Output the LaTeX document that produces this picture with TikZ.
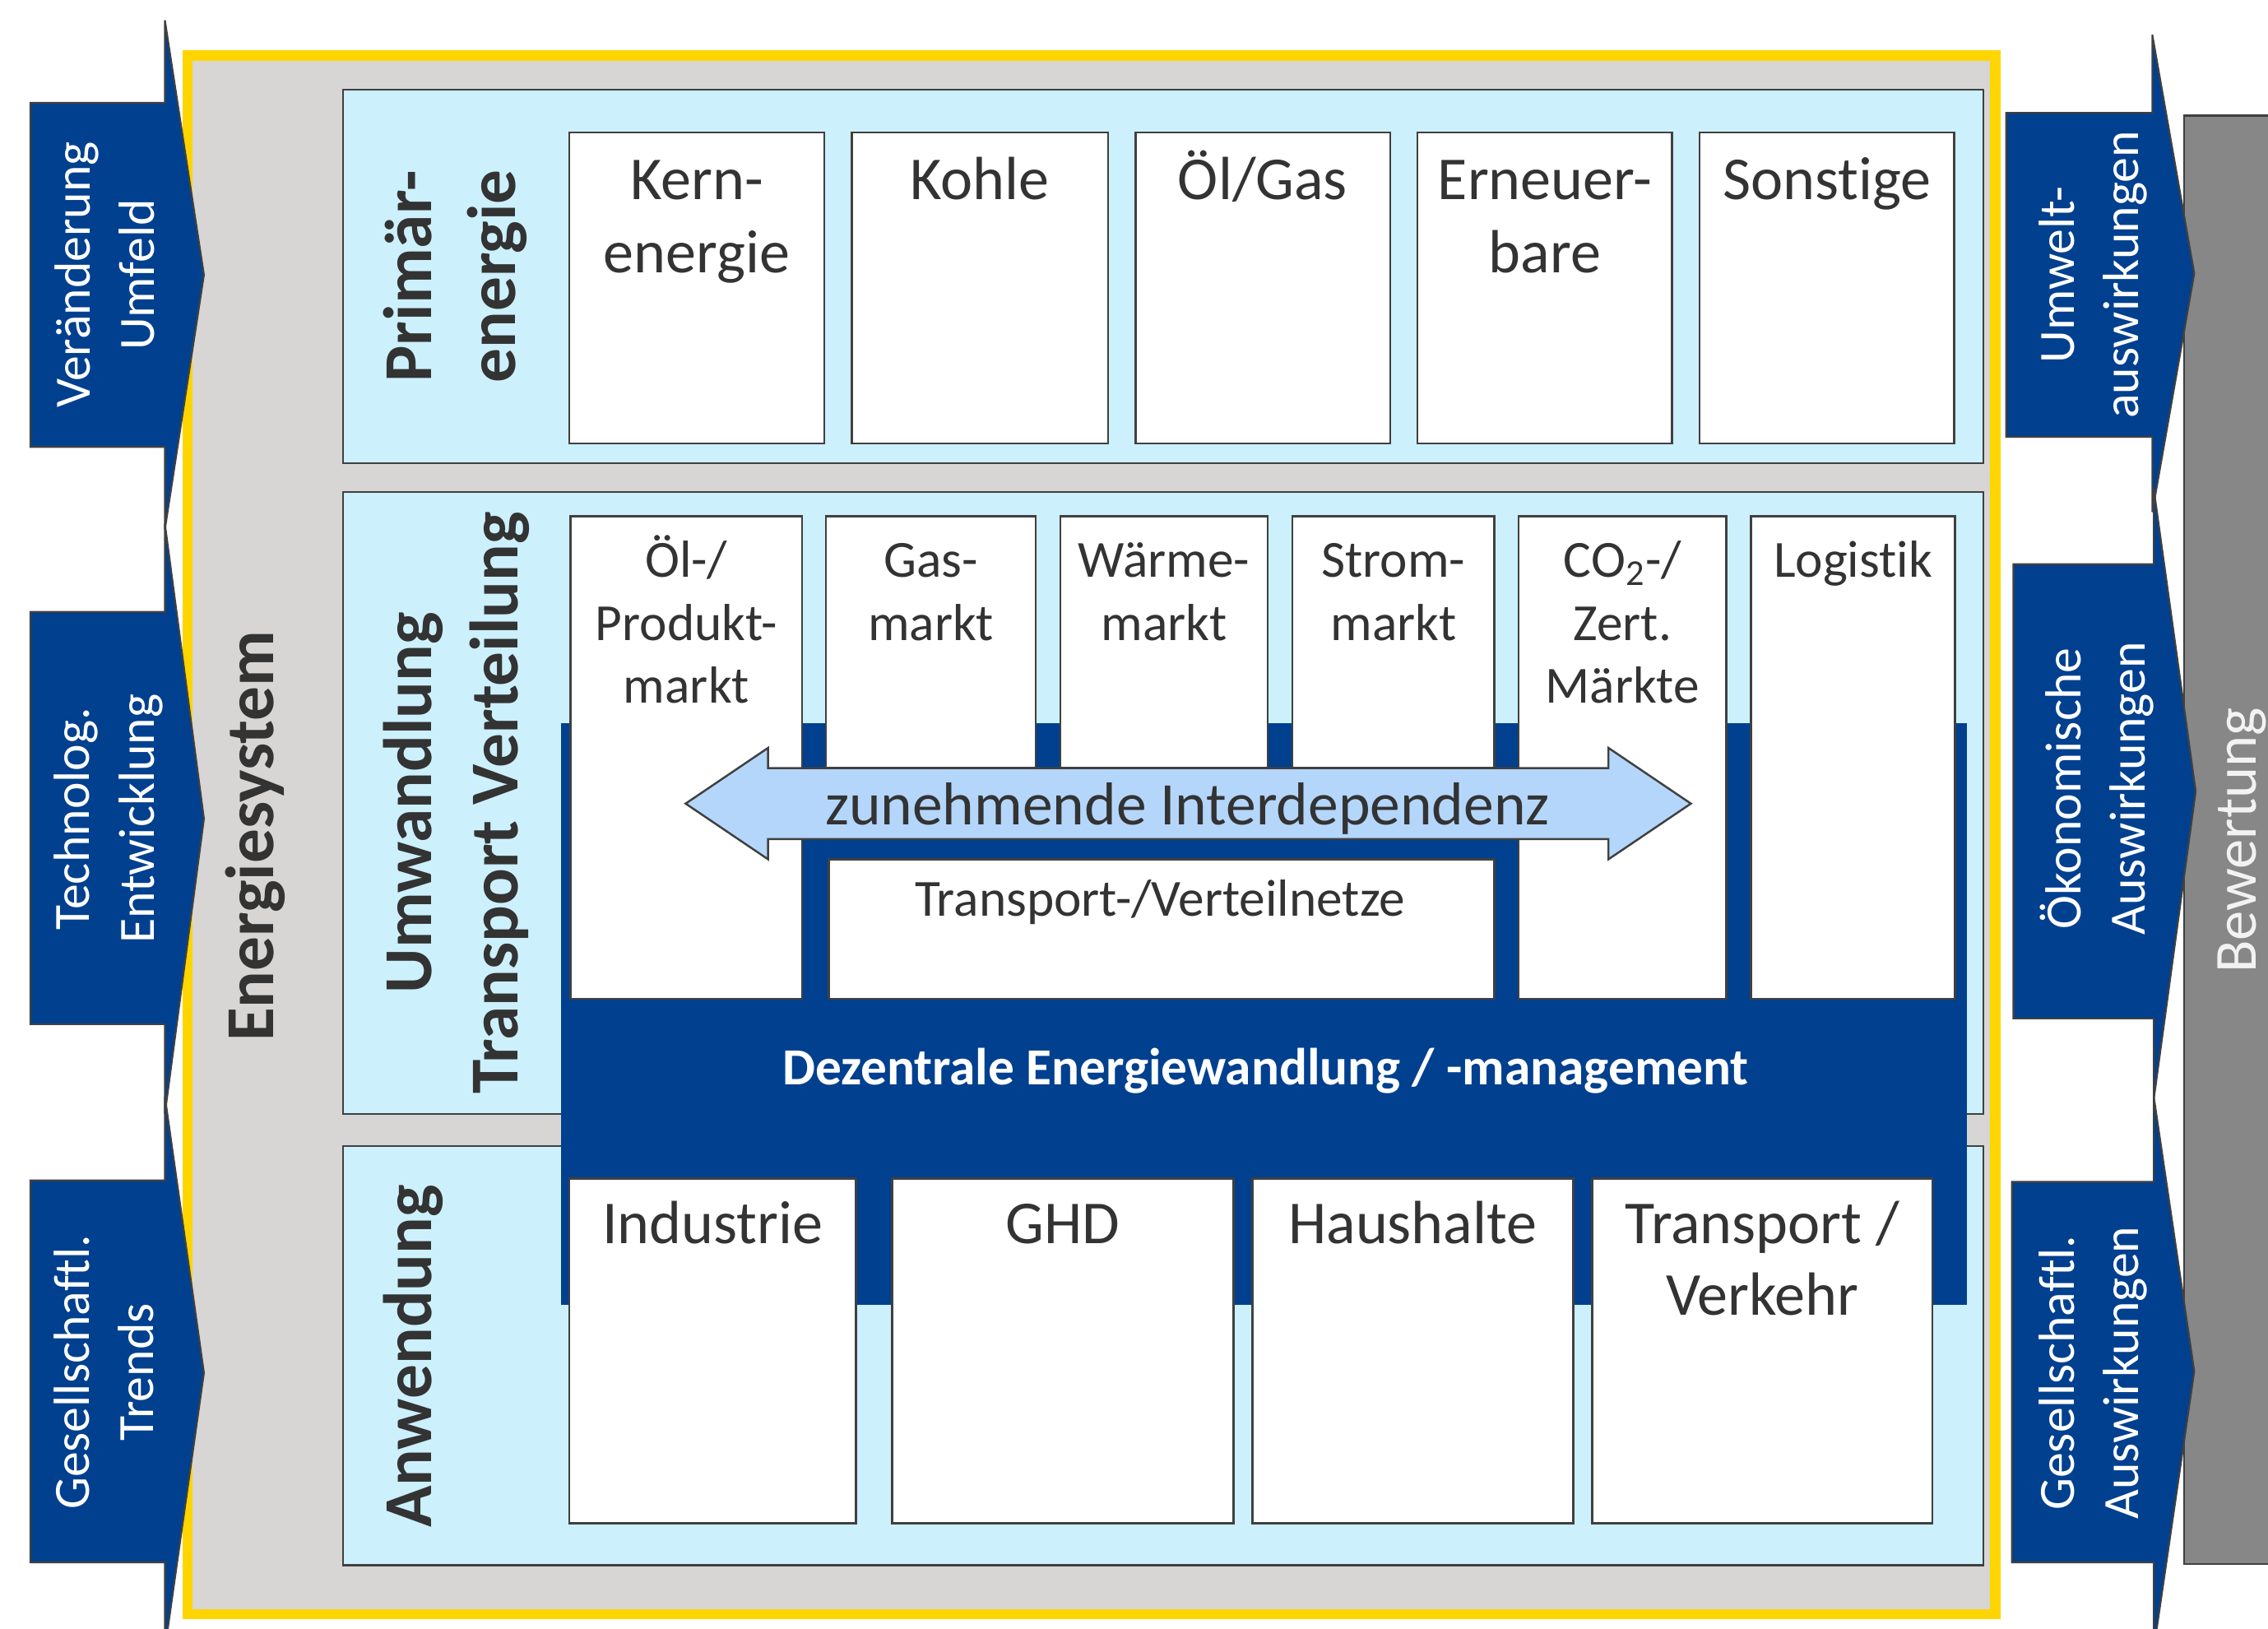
\documentclass[tikz,border=0pt]{standalone}
\usepackage{fontspec}
\setmainfont{Carlito}[Ligatures=NoCommon]
\definecolor{darkblue}{RGB}{0,64,143}
\definecolor{lightpanel}{RGB}{204,240,252}
\definecolor{bggray}{RGB}{215,214,213}
\definecolor{bewgray}{RGB}{135,135,135}
\definecolor{arrowlight}{RGB}{181,214,251}
\definecolor{frameyellow}{RGB}{255,213,0}
\definecolor{textdark}{RGB}{51,51,51}
\definecolor{bordergray}{RGB}{64,64,64}
\begin{document}
\begin{tikzpicture}[x=0.02cm,y=-0.02cm,
  panel/.style={draw=bordergray,fill=lightpanel,line width=0.7pt},
  wbox/.style={draw=bordergray,fill=white,line width=0.8pt},
  sidearrow/.style={draw=bordergray,fill=darkblue,line width=0.7pt},
  primlabel/.style={anchor=north,align=center,inner sep=0pt,text=textdark,font=\fontsize{24}{29}\selectfont},
  mktlabel/.style={anchor=north,align=center,inner sep=0pt,text=textdark,font=\fontsize{20.5}{24.7}\selectfont},
  uselabel/.style={anchor=north,align=center,inner sep=0pt,text=textdark,font=\fontsize{24}{28.1}\selectfont},
  boldrot/.style={rotate=90,align=center,inner sep=0pt,text=textdark,font=\bfseries\fontsize{27}{32}\selectfont},
  sidelabel/.style={rotate=90,align=center,inner sep=0pt,text=white,font=\fontsize{20}{25.3}\selectfont}]
\useasboundingbox (0,0) rectangle (1568,1126);
\begin{scope}
\clip (0,0) rectangle (1568,1126);
% Bewertung box
\draw[draw=bordergray,fill=bewgray,line width=0.8pt] (1510,80) rectangle (1600,1081);
% frame
\draw[draw=frameyellow,fill=bggray,line width=4] (129.5,38.4) rectangle (1379.5,1116);
% panels
\draw[panel] (237,62) rectangle (1371,320);
\draw[panel] (237,340) rectangle (1371,770);
\draw[panel] (237,792) rectangle (1371,1082);
% decentral blue area
\fill[darkblue] (388,500) rectangle (1360,902);
% primary boxes
\draw[wbox] (393.6,91.5) rectangle (570,306.5);
\draw[wbox] (589,91.5) rectangle (766,306.5);
\draw[wbox] (785,91.5) rectangle (961,306.5);
\draw[wbox] (980,91.5) rectangle (1156,306.5);
\draw[wbox] (1175,91.5) rectangle (1351,306.5);
% market boxes
\draw[wbox] (394.5,357) rectangle (554.6,690.5);
\draw[wbox] (571,357) rectangle (716,530.5);
\draw[wbox] (733,357) rectangle (876.5,530.5);
\draw[wbox] (893.6,357) rectangle (1033,530.5);
\draw[wbox] (1050,357) rectangle (1193.5,690.5);
\draw[wbox] (1210.6,357) rectangle (1351.6,690.5);
\draw[wbox] (573,594) rectangle (1033,690.5);
% application boxes
\draw[wbox] (393.7,814.6) rectangle (591.7,1053);
\draw[wbox] (616.8,814.6) rectangle (852.7,1053);
\draw[wbox] (865.8,814.6) rectangle (1087.6,1053);
\draw[wbox] (1100.7,814.6) rectangle (1336,1053);
% interdependence double arrow
\draw[draw=bordergray,fill=arrowlight,line width=0.8pt]
  (474,555.5) -- (531,517) -- (531,531) -- (1112,531) -- (1112,517) -- (1169,555.5)
  -- (1112,594) -- (1112,580) -- (531,580) -- (531,594) -- cycle;
% left arrows
\draw[sidearrow] (21,71) -- (114,71) -- (114,14) -- (141,190) -- (114,366) -- (114,309) -- (21,309) -- cycle;
\draw[sidearrow] (21,423) -- (114,423) -- (114,362) -- (141,566) -- (114,770) -- (114,708) -- (21,708) -- cycle;
\draw[sidearrow] (21,816) -- (114,816) -- (114,758) -- (141,949) -- (114,1140) -- (114,1080) -- (21,1080) -- cycle;
% right arrows
\draw[sidearrow] (1387,78) -- (1488,78) -- (1488,24) -- (1517,189) -- (1488,354) -- (1488,302) -- (1387,302) -- cycle;
\draw[sidearrow] (1392,390) -- (1489,390) -- (1489,338) -- (1518,547) -- (1489,760) -- (1489,704) -- (1392,704) -- cycle;
\draw[sidearrow] (1391,817) -- (1489,817) -- (1489,758) -- (1517,948) -- (1489,1140) -- (1489,1080) -- (1391,1080) -- cycle;
\end{scope}
% texts: side arrows
\node[sidelabel] (veraenderung) at (75.4,190) {\strut Veränderung\\\strut Umfeld};
\node[sidelabel] (technolog) at (75.3,566) {\strut Technolog.\\\strut Entwicklung};
\node[sidelabel] (trends) at (75,948.5) {\strut Gesellschaftl.\\\strut Trends};
\node[sidelabel] (umwelt) at (1447.5,190) {\strut Umwelt-\\\strut auswirkungen};
\node[sidelabel] (oekonom) at (1452,545) {\strut Ökonomische\\\strut Auswirkungen};
\node[sidelabel] (gesausw) at (1447.5,949) {\strut Gesellschaftl.\\\strut Auswirkungen};
\node[rotate=90,anchor=base,inner sep=0pt,text=white!95!black,font=\fontsize{23.5}{28}\selectfont] (bewertung) at (1559.5,581) {Bewertung};
% bold rotated labels
\node[rotate=90,anchor=base,inner sep=0pt,text=textdark,font=\bfseries\fontsize{27}{32}\selectfont] (energiesystem) at (189.2,578) {Energiesystem};
\node[boldrot,font=\bfseries\fontsize{27}{32.8}\selectfont] (primaer) at (315.8,191) {\strut Primär-\\\strut energie};
\node[boldrot,font=\bfseries\fontsize{27}{34}\selectfont] (umwandlung) at (316.4,555) {\strut Umwandlung\\\strut Transport Verteilung};
\node[rotate=90,anchor=base,inner sep=0pt,text=textdark,font=\bfseries\fontsize{27}{32}\selectfont] (anwendung) at (298.4,937.5) {Anwendung};
% primary labels
\node[primlabel] (kern) at (481.8,101.7) {\strut Kern-\\\strut energie};
\node[primlabel] (kohle) at (677.5,101.7) {\strut Kohle};
\node[primlabel] (oelgas) at (873,101.7) {\strut Öl/Gas};
\node[primlabel] (erneuer) at (1068,101.7) {\strut Erneuer-\\\strut bare};
\node[primlabel] (sonstige) at (1263,101.7) {\strut Sonstige};
% market labels
\node[mktlabel] (oelmarkt) at (474.5,368.5) {\strut Öl-/\\\strut Produkt-\\\strut markt};
\node[mktlabel] (gasmarkt) at (643.5,368.5) {\strut Gas-\\\strut markt};
\node[mktlabel] (waerme) at (804.75,368.5) {\strut Wärme-\\\strut markt};
\node[mktlabel] (strom) at (963.3,368.5) {\strut Strom-\\\strut markt};
\node[mktlabel] (co2) at (1121.75,368.5) {\strut CO\textsubscript{2}-/\\\strut Zert.\\\strut Märkte};
\node[mktlabel] (logistik) at (1281.1,368.5) {\strut Logistik};
\node[anchor=base,inner sep=0pt,text=textdark,font=\fontsize{20.5}{25}\selectfont] (netze) at (802,633) {Transport-/Verteilnetze};
\node[anchor=base,inner sep=0pt,text=textdark,font=\fontsize{23.8}{28}\selectfont] (interdep) at (821,570) {zunehmende Interdependenz};
\node[anchor=base,inner sep=0pt,text=white,font=\bfseries\fontsize{20.5}{25}\selectfont] (dezentral) at (875,750) {Dezentrale Energiewandlung / -management};
% application labels
\node[uselabel] (industrie) at (492.7,824.8) {\strut Industrie};
\node[uselabel] (ghd) at (734.75,824.8) {\strut GHD};
\node[uselabel] (haushalte) at (976.7,824.8) {\strut Haushalte};
\node[uselabel] (verkehr) at (1218.35,824.8) {\strut Transport /\\\strut Verkehr};
\end{tikzpicture}
\end{document}
